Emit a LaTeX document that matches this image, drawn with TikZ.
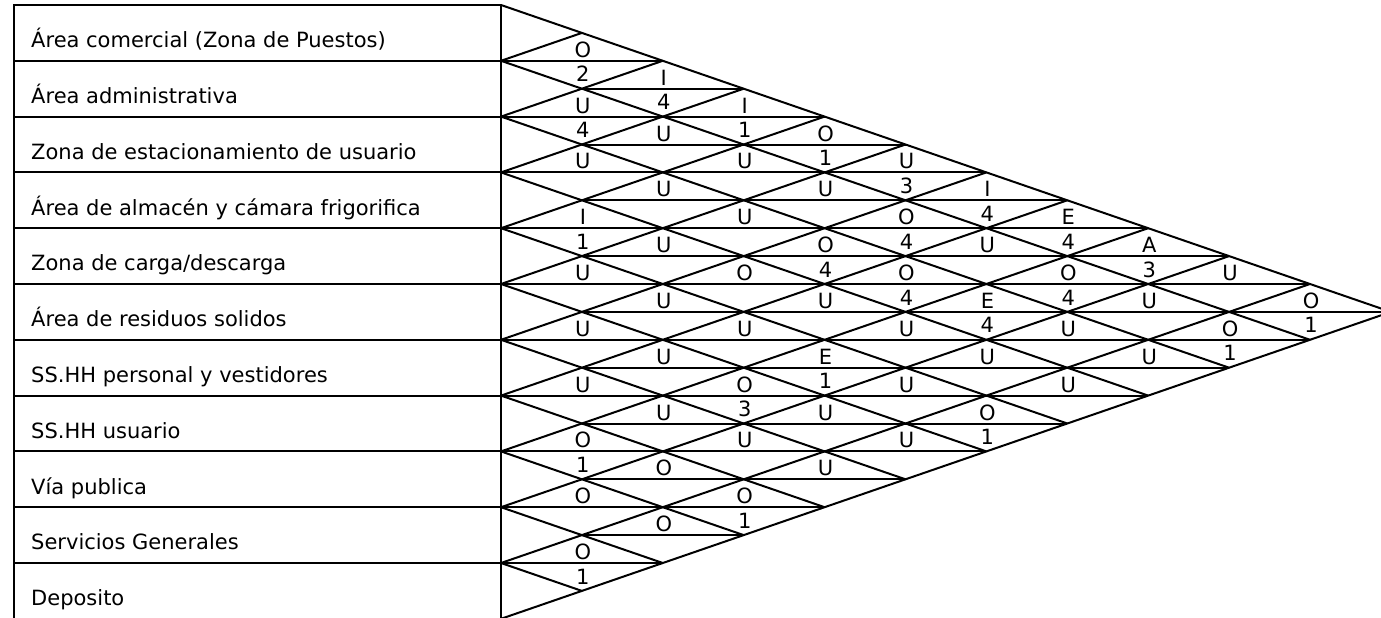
\documentclass[tikz,border=0pt]{standalone}
\usepackage{fontspec}
\setmainfont{DejaVu Sans}
\begin{document}
\begin{tikzpicture}[x=1pt,y=-1pt,
  grid/.style={line width=2pt,black,line cap=butt},
  rowlab/.style={inner sep=0pt,anchor=base west,font=\fontsize{21pt}{25pt}\selectfont},
  lab/.style={inner sep=0pt,anchor=base,font=\fontsize{21pt}{25pt}\selectfont}]
\useasboundingbox (0,0) rectangle (1381,618);
\clip (0,0) rectangle (1381,618);
% table frame
\draw[grid] (14,5) rectangle (501,618.8);
% row boundary lines (through table and triangle)
\foreach \k in {1,...,10}
  \draw[grid] (14,{5+55.8*\k}) -- ({501+2*80.9*min(\k,11-\k)},{5+55.8*\k});
% half-row lines (diamond middles)
\foreach \k in {1,...,9}
  \draw[grid] ({501+80.9},{5+55.8*(\k+0.5)}) -- ({501+2*80.9*min(\k+0.5,10.5-\k)},{5+55.8*(\k+0.5)});
% diagonals going down-right
\foreach \k in {0,...,10}
  \draw[grid] (501,{5+55.8*\k}) -- ({501+80.9*(11-\k)},{5+27.9*(11+\k)});
% diagonals going up-right
\foreach \k in {1,...,11}
  \draw[grid] (501,{5+55.8*\k}) -- ({501+80.9*\k},{5+27.9*\k});
% row names
\foreach \i/\t in {1/{Área comercial (Zona de Puestos)},2/{Área administrativa},
  3/{Zona de estacionamiento de usuario},4/{Área de almacén y cámara frigorifica},
  5/{Zona de carga/descarga},6/{Área de residuos solidos},
  7/{SS.HH personal y vestidores},8/{SS.HH usuario},9/{Vía publica},
  10/{Servicios Generales},11/{Deposito}}
  \node[rowlab] (r\i) at (31,{5+55.8*(\i-1)+42.7}) {\t};
% relationship letters
\foreach \i/\j/\L in {1/2/O,2/3/U,3/4/U,4/5/I,5/6/U,6/7/U,7/8/U,8/9/O,9/10/O,10/11/O,
  1/3/I,2/4/U,3/5/U,4/6/U,5/7/U,6/8/U,7/9/U,8/10/O,9/11/O,
  1/4/I,2/5/U,3/6/U,4/7/O,5/8/U,6/9/O,7/10/U,8/11/O,
  1/5/O,2/6/U,3/7/O,4/8/U,5/9/E,6/10/U,7/11/U,
  1/6/U,2/7/O,3/8/O,4/9/U,5/10/U,6/11/U,
  1/7/I,2/8/U,3/9/E,4/10/U,5/11/O,
  1/8/E,2/9/O,3/10/U,4/11/U,
  1/9/A,2/10/U,3/11/U,
  1/10/U,2/11/O,
  1/11/O}
  \node[lab] (L\i-\j) at ({501+80.9*(\j-\i)+1},{5+55.8*((\i+\j)/2-0.5)-3.5}) {\L};
% reason numbers
\foreach \i/\j/\N in {1/2/2,2/3/4,4/5/1,8/9/1,10/11/1,1/3/4,1/4/1,6/9/3,8/11/1,
  1/5/1,3/7/4,5/9/1,1/6/3,2/7/4,3/8/4,1/7/4,3/9/4,5/11/1,1/8/4,2/9/4,
  1/9/3,2/11/1,1/11/1}
  \node[lab] (N\i-\j) at ({501+80.9*(\j-\i)+1},{5+55.8*((\i+\j)/2-0.5)+21}) {\N};
\end{tikzpicture}
\end{document}
